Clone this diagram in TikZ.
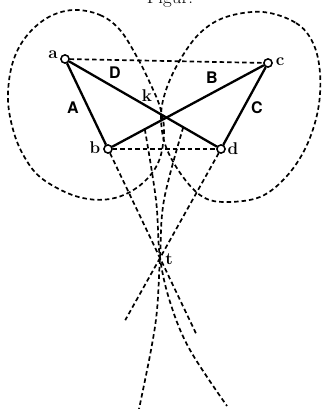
\documentclass[tikz,border=0pt]{standalone}
\usepackage{fontspec}
\newfontfamily\capsfont{TeX Gyre Heros}
\usetikzlibrary{calc}
\begin{document}
\begin{tikzpicture}[x=1pt,y=-1pt,
  bar/.style={line width=2.3pt},
  dsh/.style={line width=1.7pt,dash pattern=on 4.5pt off 3pt},
  pt/.style={circle,draw,fill=white,line width=1.4pt,minimum size=8pt,inner sep=0pt},
  lowlab/.style={font=\bfseries\fontsize{17}{17}\selectfont,inner sep=0pt},
  caplab/.style={font=\capsfont\bfseries\fontsize{16}{16}\selectfont,inner sep=0pt}]
\useasboundingbox (0,0) rectangle (323,409);
\clip (0,0) rectangle (323,409);
\fill[white] (0,0) rectangle (323,409);
% heading (mostly cut off, as in the reference)
\node[font=\fontsize{19}{19}\selectfont,anchor=base,inner sep=0pt] (head) at (170,4) {Figur.};
% ovals
\draw[dsh] plot[smooth cycle,tension=0.6] coordinates {(73,10) (100,15) (120,30) (137,57) (150,83) (160,107) (164,130) (160,158) (148,178) (130,192) (110,199) (88,199) (65,192) (40,177) (25,158) (14,133) (8,100) (12,65) (25,38) (47,18)};
\draw[dsh] plot[smooth cycle,tension=0.6] coordinates {(263,12) (296,23) (313,43) (320,73) (318,110) (306,147) (286,177) (260,197) (226,202) (203,197) (183,177) (166,147) (161,117) (166,90) (180,60) (200,33) (226,17)};
% points
\node[pt] (a) at (65,59) {};
\node[pt] (c) at (268,63) {};
\node[pt] (b) at (108,149) {};
\node[pt] (d) at (221,149) {};
\coordinate (t) at (160,258);
\coordinate (p1) at ($(b.center)!0.23!(c.center)$);
\coordinate (p2) at ($(a.center)!0.758!(d.center)$);
% dashed horizontals
\draw[dsh] (a) -- (c);
\draw[dsh] (b) -- (d);
% bars
\draw[bar] (a) -- (b);
\draw[bar] (c) -- (d);
\draw[bar] (a) -- (d);
\draw[bar] (b) -- (c);
\node[pt] at (a) {};
\node[pt] at (b) {};
\node[pt] at (c) {};
\node[pt] at (d) {};
% lines through t
\draw[dsh] (b) -- ($(b.center)!1.69!(t)$);
\draw[dsh] (d) -- ($(d.center)!1.57!(t)$);
\draw[dsh] plot[smooth,tension=0.6] coordinates {(p1) (156,200) (t) (171,305) (190,350) (227,406)};
\draw[dsh] plot[smooth,tension=0.6] coordinates {(p2) (164,200) (t) (157,310) (151,350) (139,409)};
% labels
\node[lowlab] (la) at (53,55) {a};
\node[lowlab] (lc) at (280,62) {c};
\node[lowlab] (lb) at (95,148) {b};
\node[lowlab] (ld) at (233,149) {d};
\node[lowlab] (lk) at (147,96) {k};
\node[lowlab] (lt) at (169,259) {t};
\node[caplab] (lD) at (115,73) {D};
\node[caplab] (lB) at (212,78) {B};
\node[caplab] (lA) at (73,108) {A};
\node[caplab] (lC) at (257,108) {C};
\end{tikzpicture}
\end{document}
